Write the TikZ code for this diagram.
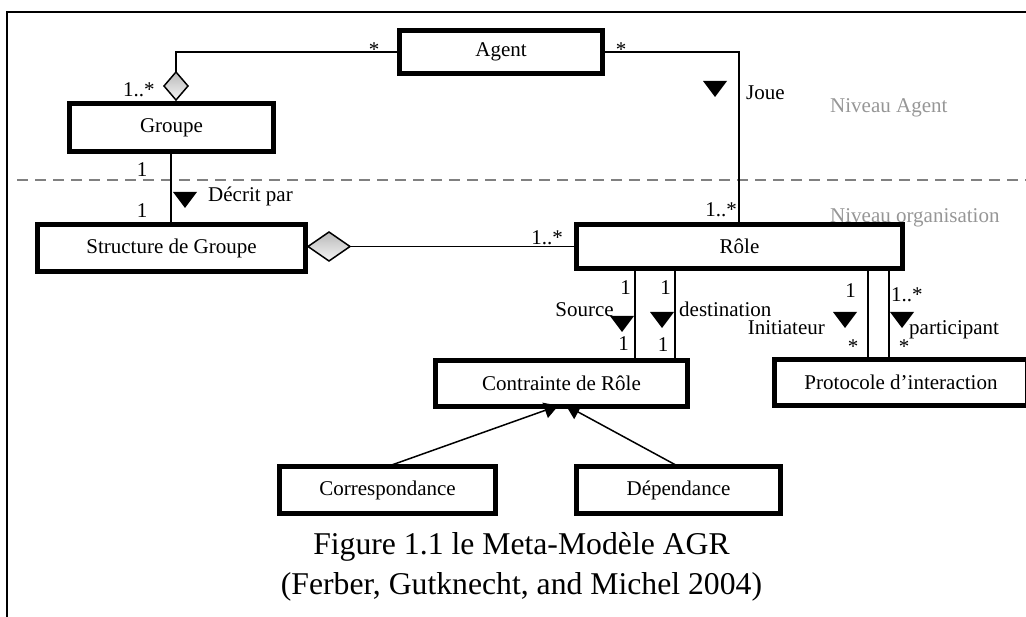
\documentclass[tikz,border=0pt]{standalone}
\usepackage{fontspec}
\setmainfont{Liberation Serif}
\usetikzlibrary{arrows.meta,shapes.geometric}
\definecolor{levelgray}{RGB}{150,150,150}
\definecolor{dashgray}{RGB}{128,128,128}
\begin{document}
\begin{tikzpicture}[x=1pt,y=-1pt,
  txt/.style={font=\fontsize{21}{25}\selectfont},
  box/.style={draw, line width=5pt, fill=white, inner sep=0pt, outer sep=0pt, txt},
  lab/.style={txt, inner sep=0pt},
  lvl/.style={lab, text=levelgray},
  conn/.style={line width=1.5pt},
  agg/.style={diamond, draw, line width=1.5pt, inner sep=0pt, outer sep=0pt,
    top color=gray!55, bottom color=gray!8},
  gen/.style={line width=1.5pt, -{Triangle[length=14pt,width=16pt]}, shorten >=-2.5pt},
  dirmark/.pic={\fill (-12,-8) -- (12,-8) -- (0,8) -- cycle;}
]
\useasboundingbox (0,0) rectangle (1026,617);

% frame and level separator
\draw[line width=2pt] (7,617) -- (7,12) -- (1026,12);
\draw[dashgray, line width=1.5pt, dash pattern=on 11pt off 7pt] (17,180) -- (1026,180);

% level names
\node[lvl, anchor=base west] (lvagent) at (830,113) {Niveau Agent};
\node[lvl, anchor=base west] (lvorg) at (830,223) {Niveau organisation};

% classes
\node[box, minimum width=203, minimum height=43] (agent) at (501,52) {Agent};
\node[box, minimum width=204, minimum height=48] (groupe) at (171.5,127.5) {Groupe};
\node[box, minimum width=268, minimum height=47] (struct) at (171.5,248) {Structure de Groupe};
\node[box, minimum width=326, minimum height=44] (role) at (739.5,246.5) {Rôle};
\node[box, minimum width=252, minimum height=46] (contr) at (561.5,383.5) {Contrainte de Rôle};
\node[box, minimum width=253, minimum height=46] (proto) at (901,382.5) {Protocole d’interaction};
\node[box, minimum width=216, minimum height=47] (corr) at (387.5,490) {Correspondance};
\node[box, minimum width=204, minimum height=47] (dep) at (678.5,490) {Dépendance};

% aggregation diamonds
\node[agg, minimum width=24, minimum height=28] (dg) at (176,86) {};
\node[agg, minimum width=42, minimum height=29] (ds) at (329,246.5) {};

% associations
\coordinate (c1) at (176,52);
\draw[conn] (agent.west |- c1) -- (c1) -- (dg.north);
\coordinate (c2) at (739,52);
\draw[conn] (agent.east |- c2) -- (c2) -- (role.north -| c2);
\coordinate (c3) at (171,0);
\draw[conn] (groupe.south -| c3) -- (struct.north -| c3);
\draw[conn] (ds.east) -- (role.west |- ds.east);

\coordinate (s1) at (635,0);
\coordinate (s2) at (675,0);
\coordinate (s3) at (868,0);
\coordinate (s4) at (889,0);
\draw[conn] (role.south -| s1) -- (contr.north -| s1);
\draw[conn] (role.south -| s2) -- (contr.north -| s2);
\draw[conn] (role.south -| s3) -- (proto.north -| s3);
\draw[conn] (role.south -| s4) -- (proto.north -| s4);

% generalisations
\coordinate (g1) at (556,0);
\coordinate (g2) at (568,0);
\draw[gen] (corr.north) -- (contr.south -| g1);
\draw[gen] (dep.north) -- (contr.south -| g2);

% reading direction marks
\pic at (185,200) {dirmark};
\pic at (715,89) {dirmark};
\pic at (622,324) {dirmark};
\pic at (662,320) {dirmark};
\pic at (845,320) {dirmark};
\pic at (902,320) {dirmark};

% association names
\node[lab, anchor=base west] (ldecrit) at (208,202) {Décrit par};
\node[lab, anchor=base west] (ljoue) at (746,100) {Joue};
\node[lab, anchor=base east] (lsource) at (614,317) {Source};
\node[lab, anchor=base west] (ldest) at (679,317) {destination};
\node[lab, anchor=base east] (linit) at (825,335) {Initiateur};
\node[lab, anchor=base west] (lpart) at (909,335) {participant};

% multiplicities
\node[lab, anchor=base] (m1) at (374,57) {*};
\node[lab, anchor=base west] (m2) at (123,97) {1..*};
\node[lab, anchor=base] (m3) at (621,57) {*};
\node[lab, anchor=base east] (m4) at (737,217) {1..*};
\node[lab, anchor=base east] (m5) at (563,245) {1..*};
\node[lab, anchor=base] (m6) at (142,177) {1};
\node[lab, anchor=base] (m7) at (142,218) {1};
\node[lab, anchor=base east] (m8) at (631,295) {1};
\node[lab, anchor=base east] (m9) at (671,295) {1};
\node[lab, anchor=base east] (m10) at (856,298) {1};
\node[lab, anchor=base west] (m11) at (891,302) {1..*};
\node[lab, anchor=base east] (m12) at (629,351) {1};
\node[lab, anchor=base] (m13) at (663,352) {1};
\node[lab, anchor=base] (m14) at (853,354) {*};
\node[lab, anchor=base] (m15) at (904,354) {*};

% caption
\node[inner sep=0pt, anchor=base, font=\fontsize{31.7}{36}\selectfont] (cap1) at (521.5,554) {Figure 1.1 le Meta-Modèle AGR};
\node[inner sep=0pt, anchor=base, font=\fontsize{31.7}{36}\selectfont] (cap2) at (521.5,594) {(Ferber, Gutknecht, and Michel 2004)};
\end{tikzpicture}
\end{document}
